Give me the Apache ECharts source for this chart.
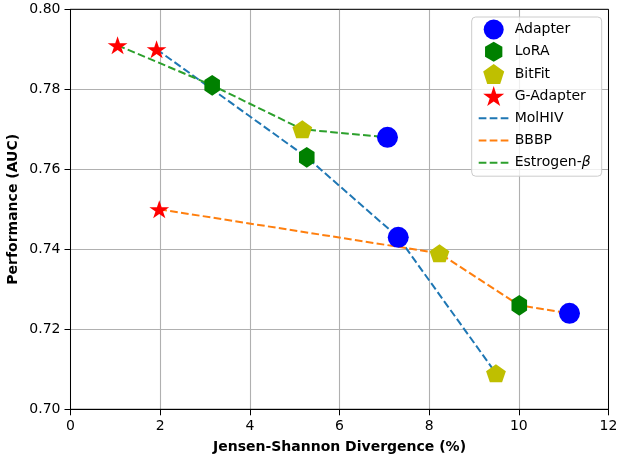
<!DOCTYPE html>
<html>
<head>
<meta charset="utf-8">
<script src="https://cdn.jsdelivr.net/npm/echarts@6/dist/echarts.min.js"></script>
<style>
html, body { margin: 0; padding: 0; background: #fff; }
#chart { width: 618px; height: 457px; }
</style>
</head>
<body>
<div id="chart"></div>
<script>
// data ===============================================================
var methods = ['Adapter', 'LoRA', 'BitFit', 'G-Adapter'];
var datasets = ['MolHIV', 'BBBP', 'Estrogen-β'];
// one value per method, same order as methods
var molhivX = [7.31, 5.27, 9.49, 1.92];
var molhivY = [0.743, 0.763, 0.709, 0.790];
var bbbpX = [11.13, 10.01, 8.23, 1.98];
var bbbpY = [0.724, 0.726, 0.739, 0.750];
var estrogenX = [7.07, 3.16, 5.17, 1.05];
var estrogenY = [0.768, 0.781, 0.770, 0.791];
var xTicks = [0, 2, 4, 6, 8, 10, 12];
var yTicks = [0.70, 0.72, 0.74, 0.76, 0.78, 0.80];

var methodColors = ['#0000ff', '#008000', '#bfbf00', '#ff0000'];
var lineColors = ['#1f77b4', '#ff7f0e', '#2ca02c'];
var dash = [7.7, 3.3];
var font = 'DejaVu Sans';
var fs = 14;

// 正多边形 / 星形, 顶点朝上
function shapePath(n, inner) {
    var k = inner ? 2 * n : n;
    var pts = [];
    for (var i = 0; i < k; i++) {
        var r = (inner && i % 2) ? inner : 1;
        var a = -Math.PI / 2 + i * 2 * Math.PI / k;
        pts.push((r * Math.cos(a)).toFixed(4) + ' ' + (r * Math.sin(a)).toFixed(4));
    }
    return 'path://M' + pts.join(' L') + ' Z';
}

var symbols = ['circle', shapePath(6), shapePath(5), shapePath(5, 0.381966)];
var symbolSizes = [21, [18, 20.8], [19.8, 18.8], [19.8, 18.8]];

var allX = [molhivX, bbbpX, estrogenX];
var allY = [molhivY, bbbpY, estrogenY];

var series = [];

// dashed lines, points sorted by x
datasets.forEach(function(name, d) {
    var pts = allX[d].map(function(x, i) {
        return [x, allY[d][i]];
    });
    pts.sort(function(a, b) { return a[0] - b[0]; });
    series.push({
        name: name,
        type: 'line',
        data: pts,
        symbol: 'none',
        z: 2,
        lineStyle: { color: lineColors[d], width: 2, type: dash },
        itemStyle: { color: lineColors[d] }
    });
});

// markers per method
methods.forEach(function(name, m) {
    series.push({
        name: name,
        type: 'scatter',
        symbol: symbols[m],
        symbolSize: symbolSizes[m],
        symbolKeepAspect: true,
        z: 5,
        itemStyle: { color: methodColors[m], opacity: 1 },
        data: allX.map(function(xs, d) {
            return [xs[m], allY[d][m]];
        })
    });
});

// legend: markers first, then dashed lines without symbol
var legendData = methods.map(function(name) {
    return { name: name };
}).concat(datasets.map(function(name, d) {
    return {
        name: name,
        itemStyle: { color: 'rgba(0,0,0,0)', borderWidth: 0 },
        lineStyle: { color: lineColors[d], width: 2, type: dash }
    };
}));

var chart = echarts.init(document.getElementById('chart'));
chart.setOption({
    animation: false,
    backgroundColor: '#fff',
    grid: {
        left: 70.5,
        right: 9.5,
        top: 9.3,
        bottom: 47.7,
        outerBoundsMode: 'none',
        show: true,
        borderColor: '#000',
        borderWidth: 1,
        z: 3
    },
    xAxis: {
        type: 'value',
        min: xTicks[0],
        max: xTicks[xTicks.length - 1],
        interval: 2,
        name: 'Jensen-Shannon Divergence (%)',
        nameLocation: 'middle',
        nameGap: 31,
        nameTextStyle: { fontFamily: font, fontSize: fs, fontWeight: 'bold', color: '#000' },
        axisLine: { lineStyle: { color: '#000', width: 1 } },
        axisTick: { show: true, length: 6, lineStyle: { color: '#000' } },
        axisLabel: { fontFamily: font, fontSize: fs, color: '#000', margin: 10 },
        splitLine: { show: true, lineStyle: { color: '#b0b0b0', width: 1.1 } }
    },
    yAxis: {
        type: 'value',
        min: yTicks[0],
        max: yTicks[yTicks.length - 1],
        interval: 0.02,
        name: 'Performance (AUC)',
        nameLocation: 'middle',
        nameGap: 50,
        nameMoveOverlap: false,
        nameTextStyle: { fontFamily: font, fontSize: fs, fontWeight: 'bold', color: '#000' },
        axisLine: { show: true, lineStyle: { color: '#000', width: 1 } },
        axisTick: { show: true, length: 6, lineStyle: { color: '#000' } },
        axisLabel: {
            fontFamily: font, fontSize: fs, color: '#000', margin: 10,
            formatter: function(v) { return v.toFixed(2); }
        },
        splitLine: { show: true, lineStyle: { color: '#b0b0b0', width: 1.1 } }
    },
    legend: {
        orient: 'vertical',
        right: 16.3,
        top: 17,
        data: legendData,
        itemWidth: 30,
        itemHeight: 20,
        itemGap: 2.2,
        padding: [2.5, 11, 3.5, 6],
        backgroundColor: 'rgba(255,255,255,0.8)',
        borderColor: '#cccccc',
        borderWidth: 1,
        borderRadius: 4,
        z: 10,
        formatter: function(name) {
            if (name === 'Estrogen-β') return '{n|Estrogen-}{b|β}';
            return '{n|' + name + '}';
        },
        textStyle: {
            fontFamily: font, fontSize: fs, color: '#000', padding: [0, 0, 0, 1],
            lineHeight: 20, height: 20, verticalAlign: 'middle',
            rich: {
                n: { fontFamily: font, fontSize: fs, color: '#000', lineHeight: 20 },
                b: { fontFamily: font, fontSize: fs, color: '#000', fontStyle: 'italic', lineHeight: 20 }
            }
        }
    },
    series: series
});
</script>
</body>
</html>
